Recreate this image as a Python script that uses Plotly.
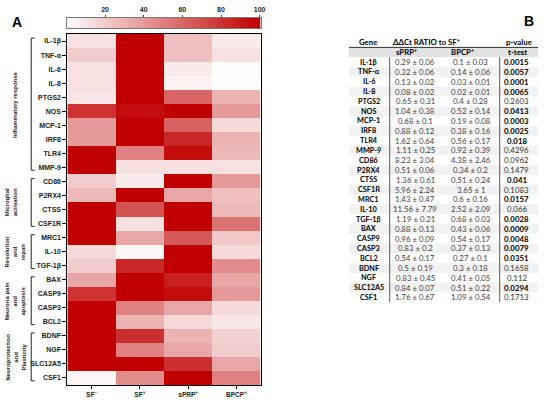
import plotly.graph_objects as go

W, H = 550, 400

genes = ["IL-1β", "TNF-α", "IL-6", "IL-8", "PTGS2", "NOS", "MCP-1", "IRF8", "TLR4", "MMP-9",
         "CD86", "P2RX4", "CTSS", "CSF1R", "MRC1", "IL-10", "TGF-1β", "BAX", "CASP9", "CASP3",
         "BCL2", "BDNF", "NGF", "SLC12A5", "CSF1"]
conditions = ["SF<sup>−</sup>", "SF<sup>+</sup>", "sPRP<sup>+</sup>", "BPCP<sup>+</sup>"]

# heatmap values (relative expression, 0-100)
sf_minus = [12, 20, 12, 12, 10, 80, 40, 40, 100, 100, 20, 28, 100, 100, 100, 15, 20, 35, 80, 100, 100, 100, 100, 100, 4]
sf_plus = [100, 100, 100, 100, 100, 95, 100, 100, 50, 12, 8, 100, 68, 12, 35, 4, 85, 100, 100, 50, 30, 82, 50, 100, 45]
sprp_plus = [25, 25, 8, 5, 60, 100, 62, 85, 95, 12, 100, 35, 100, 100, 65, 100, 100, 88, 95, 35, 15, 30, 35, 82, 100]
bpcp_plus = [8, 12, 1, 1, 30, 40, 15, 30, 28, 12, 40, 25, 28, 55, 22, 15, 45, 35, 40, 15, 10, 18, 20, 35, 50]

scale_ticks = [20, 40, 60, 80, 100]

groups = [
    ("Inflammatory response", "IL-1β", "MMP-9"),
    ("Microglial<br>activation", "CD86", "CSF1R"),
    ("Resolution<br>and<br>repair", "MRC1", "TGF-1β"),
    ("Neurona pain<br>and<br>apoptosis", "BAX", "BCL2"),
    ("Neuroprotection<br>and<br>Plasticity", "BDNF", "CSF1"),
]

# table B: ddCt ratio to SF+
sprp_mean = [0.29, 0.32, 0.13, 0.08, 0.65, 1.04, 0.68, 0.88, 1.62, 1.11, 8.23, 0.51, 1.36, 5.96, 1.43, 11.56, 1.19, 0.88, 0.96, 0.83, 0.54, 0.5, 0.83, 0.84, 1.76]
sprp_sd = [0.06, 0.06, 0.02, 0.02, 0.31, 0.38, 0.1, 0.12, 0.64, 0.25, 3.04, 0.06, 0.61, 2.24, 0.47, 7.79, 0.21, 0.13, 0.09, 0.2, 0.17, 0.19, 0.45, 0.07, 0.67]
bpcp_mean = [0.1, 0.14, 0.03, 0.02, 0.4, 0.52, 0.19, 0.38, 0.56, 0.92, 4.38, 0.34, 0.51, 3.65, 0.6, 2.52, 0.68, 0.43, 0.54, 0.37, 0.27, 0.3, 0.41, 0.51, 1.09]
bpcp_sd = [0.03, 0.06, 0.01, 0.01, 0.28, 0.14, 0.08, 0.16, 0.17, 0.39, 2.46, 0.2, 0.24, 1, 0.16, 2.09, 0.03, 0.06, 0.17, 0.13, 0.1, 0.18, 0.05, 0.22, 0.54]
p_values = [0.0015, 0.0057, 0.0001, 0.0065, 0.2603, 0.0413, 0.0003, 0.0025, 0.018, 0.4296, 0.0962, 0.1479, 0.041, 0.1083, 0.0157, 0.066, 0.0028, 0.0009, 0.0048, 0.0079, 0.0351, 0.1658, 0.112, 0.0294, 0.1713]

reds = [[0, "#ffffff"], [1, "#c00000"]]
label_font = "Liberation Sans, Arial, sans-serif"
table_font = "Lato, Open Sans, sans-serif"

z = [[sf_minus[i], sf_plus[i], sprp_plus[i], bpcp_plus[i]] for i in range(len(genes))]
scale_vals = list(range(1, 101))

fig = go.Figure()
fig.add_trace(go.Heatmap(z=z, x=conditions, y=genes, colorscale=reds, zmin=0, zmax=100,
                         showscale=False, hoverinfo="skip", xaxis="x", yaxis="y"))
fig.add_trace(go.Heatmap(z=[scale_vals], x=scale_vals, y=[0], colorscale=reds, zmin=0, zmax=100,
                         showscale=False, hoverinfo="skip", xaxis="x2", yaxis="y2"))
fig.add_trace(go.Scatter(x=[], y=[], xaxis="x3", yaxis="y3", showlegend=False))


def px_x(v):
    return v / W


def px_y(v):
    return 1 - v / H


hm_x = [px_x(68), px_x(263)]
fig.update_layout(
    width=W, height=H, margin=dict(l=0, r=0, t=0, b=0),
    paper_bgcolor="white", plot_bgcolor="white", showlegend=False,
    font=dict(family=label_font, color="#222"),
    xaxis=dict(domain=hm_x, anchor="y", showline=True, mirror=True, linecolor="black", linewidth=1,
               ticks="outside", ticklen=3, tickcolor="black",
               tickfont=dict(size=6.5, weight="bold", color="#222"), fixedrange=True),
    yaxis=dict(domain=[px_y(385), px_y(34)], anchor="x", autorange="reversed",
               showline=True, mirror=True, linecolor="black", linewidth=1,
               ticks="outside", ticklen=4, tickcolor="black",
               tickfont=dict(size=7, weight="bold", color="#222"), fixedrange=True),
    xaxis2=dict(domain=hm_x, anchor="y2", side="top", range=[0.5, 100.5], tickvals=scale_ticks,
                ticks="outside", ticklen=2, tickcolor="#444", showline=True, mirror=True,
                linecolor="#777", tickfont=dict(size=7, weight="bold", color="#222"), fixedrange=True),
    yaxis2=dict(domain=[px_y(28), px_y(18)], anchor="x2", range=[-0.5, 0.5], showticklabels=False,
                showline=True, mirror=True, linecolor="#777", ticks="", fixedrange=True),
    xaxis3=dict(domain=[px_x(352), px_x(543)], anchor="y3", range=[352, 543], visible=False),
    yaxis3=dict(domain=[px_y(302.4), px_y(37.6)], anchor="x3", range=[24.5, -2.5], visible=False),
)

shapes = []
annotations = []

# group brackets and labels on the left of the heatmap
label_x = [15, 12, 15, 15, 16]
for (name, first, last), lx in zip(groups, label_x):
    i0 = genes.index(first) - 0.2
    i1 = genes.index(last) + 0.2
    line = dict(color="#222", width=1)
    shapes.append(dict(type="line", xref="paper", yref="y", x0=px_x(31.5), x1=px_x(31.5), y0=i0, y1=i1, line=line))
    shapes.append(dict(type="line", xref="paper", yref="y", x0=px_x(31.5), x1=px_x(35), y0=i0, y1=i0, line=line))
    shapes.append(dict(type="line", xref="paper", yref="y", x0=px_x(31.5), x1=px_x(35), y0=i1, y1=i1, line=line))
    annotations.append(dict(text="<b>" + name + "</b>", xref="paper", yref="y", x=px_x(lx), y=(i0 + i1) / 2,
                            textangle=-90, showarrow=False, font=dict(size=6, color="#222"),
                            xanchor="center", yanchor="middle"))

# panel letters
annotations.append(dict(text="<b>A</b>", xref="paper", yref="paper", x=px_x(10), y=px_y(12),
                        showarrow=False, font=dict(size=14, color="black")))
annotations.append(dict(text="<b>B</b>", xref="paper", yref="paper", x=px_x(541), y=px_y(11),
                        showarrow=False, font=dict(size=14, color="black")))

# table B
col_gene, col_sprp, col_bpcp, col_p = 372, 419, 475, 521.5
tl, tr = 352, 543
for i in range(1, len(genes), 2):
    shapes.append(dict(type="rect", xref="x3", yref="y3", x0=tl, x1=tr, y0=i - 0.5, y1=i + 0.5,
                       fillcolor="#f2f2f2", line=dict(width=0), layer="below"))
shapes.append(dict(type="rect", xref="x3", yref="y3", x0=tl, x1=tr, y0=-1.5, y1=-0.5,
                   fillcolor="#e2e2e2", line=dict(width=0), layer="below"))
shapes.append(dict(type="line", xref="x3", yref="y3", x0=tl, x1=tr, y0=-1.5, y1=-1.5,
                   line=dict(color="#333", width=1)))
for vx in (393.3, 504.3):
    shapes.append(dict(type="line", xref="x3", yref="y3", x0=vx, x1=vx, y0=-0.5, y1=len(genes) - 0.5,
                       line=dict(color="#555", width=1)))


def cell(text, x, y, bold=False, color="#333", size=7.8):
    t = "<b>" + text + "</b>" if bold else text
    return dict(text=t, xref="x3", yref="y3", x=x, y=y, showarrow=False,
                font=dict(family=table_font, size=size, color=color),
                xanchor="center", yanchor="middle")


annotations.append(cell("Gene", 371, -2, bold=True, color="#000"))
annotations.append(cell("ΔΔCt RATIO to SF<sup>+</sup>", 430, -2, bold=True, color="#000"))
annotations.append(cell("p-value", 523.5, -2, bold=True, color="#000"))
annotations.append(cell("sPRP<sup>+</sup>", 410, -1, bold=True, color="#000"))
annotations.append(cell("BPCP<sup>+</sup>", 467, -1, bold=True, color="#000"))
annotations.append(cell("t-test", 522, -1, bold=True, color="#000"))

for i, g in enumerate(genes):
    annotations.append(cell(g, col_gene, i, bold=True, color="#000", size=7.3))
    annotations.append(cell(f"{sprp_mean[i]:g} ± {sprp_sd[i]:g}", col_sprp, i, color="#404040"))
    annotations.append(cell(f"{bpcp_mean[i]:g} ± {bpcp_sd[i]:g}", col_bpcp, i, color="#404040"))
    sig = p_values[i] < 0.05
    annotations.append(cell(f"{p_values[i]:g}", col_p, i, bold=sig, color="#000" if sig else "#333"))

fig.update_layout(shapes=shapes, annotations=annotations)
fig.write_html("out.html", config={"displayModeBar": False},
               post_script="document.body.style.margin='0';document.body.style.overflow='hidden';")
